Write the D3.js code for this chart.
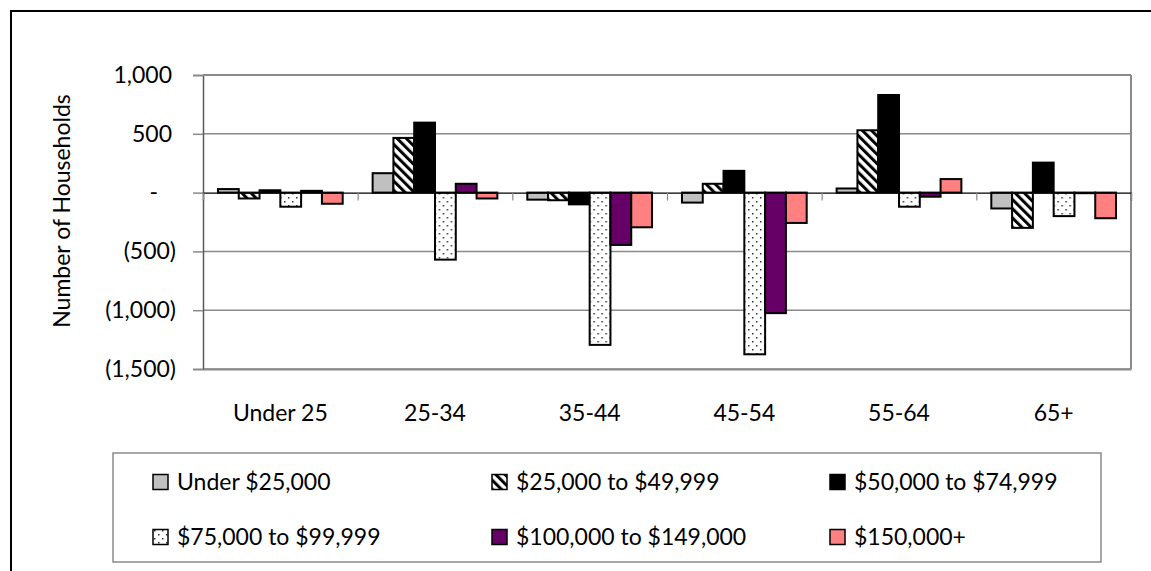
<!DOCTYPE html>
<html>
<head>
<meta charset="utf-8">
<script src="https://cdn.jsdelivr.net/npm/d3@7"></script>
<style>
  body { margin: 0; background: #fff; }
  svg { display: block; font-family: Lato, "Open Sans", sans-serif; }
</style>
</head>
<body>
<div id="chart"></div>
<script>
const ageGroups = ['Under 25', '25-34', '35-44', '45-54', '55-64', '65+'];
const incomeBands = ['Under $25,000', '$25,000 to $49,999', '$50,000 to $74,999',
  '$75,000 to $99,999', '$100,000 to $149,000', '$150,000+'];
const under25k = [30, 165, -60, -85, 35, -135];
const from25k = [-50, 465, -65, 75, 530, -300];
const from50k = [20, 595, -100, 185, 830, 255];
const from75k = [-120, -570, -1295, -1375, -120, -200];
const from100k = [15, 75, -445, -1025, -35, -5];
const over150k = [-95, -50, -295, -258, 115, -218];
const yTicks = [1000, 500, 0, -500, -1000, -1500];

const seriesValues = [under25k, from25k, from50k, from75k, from100k, over150k];
const fills = ['#C0C0C0', 'url(#hatch)', '#000000', 'url(#dots)', '#660066', '#FF8080'];

const width = 1151;
const height = 571;
const plot = { left: 203, right: 1131, top: 75, bottom: 369 };
const fontSize = 23;

const svg = d3.select('#chart')
  .append('svg')
  .attr('width', width)
  .attr('height', height);

// patterns
const defs = svg.append('defs');
const hatch = defs.append('pattern')
  .attr('id', 'hatch')
  .attr('patternUnits', 'userSpaceOnUse')
  .attr('width', 6.5)
  .attr('height', 6.5)
  .attr('patternTransform', 'rotate(-45)');
hatch.append('rect').attr('width', 6.5).attr('height', 6.5).attr('fill', '#fff');
hatch.append('rect').attr('width', 3).attr('height', 6.5).attr('fill', '#000');

const dots = defs.append('pattern')
  .attr('id', 'dots')
  .attr('patternUnits', 'userSpaceOnUse')
  .attr('width', 8)
  .attr('height', 8);
dots.append('rect').attr('width', 8).attr('height', 8).attr('fill', '#fff');
dots.append('rect').attr('x', 1).attr('y', 1).attr('width', 1.5).attr('height', 1.5).attr('fill', '#333');
dots.append('rect').attr('x', 5).attr('y', 5).attr('width', 1.5).attr('height', 1.5).attr('fill', '#333');

// outer frame (runs past the window edge)
svg.append('rect')
  .attr('x', 11).attr('y', 11)
  .attr('width', 1200).attr('height', 700)
  .attr('fill', 'none')
  .attr('stroke', '#000')
  .attr('stroke-width', 2);

const x = d3.scaleBand()
  .domain(ageGroups)
  .range([plot.left, plot.right])
  .padding(0);

const xInner = d3.scaleBand()
  .domain(d3.range(incomeBands.length))
  .range([0, x.bandwidth()])
  .paddingInner(0)
  .paddingOuter(0.72);

const y = d3.scaleLinear()
  .domain([-1500, 1000])
  .range([plot.bottom, plot.top]);

// gridlines
svg.append('g')
  .selectAll('line')
  .data(yTicks.filter(d => d !== 0))
  .join('line')
    .attr('x1', plot.left).attr('x2', plot.right)
    .attr('y1', d => y(d)).attr('y2', d => y(d))
    .attr('stroke', '#8a8a8a')
    .attr('stroke-width', 1.5);

// right border of the plot area
svg.append('line')
  .attr('x1', plot.right).attr('x2', plot.right)
  .attr('y1', plot.top).attr('y2', plot.bottom)
  .attr('stroke', '#8a8a8a')
  .attr('stroke-width', 2);

function fmt(v) {
  if (v === 0) return '-';
  if (v < 0) return '(' + d3.format(',')(-v) + ')';
  return d3.format(',')(v);
}

// y axis
const yAxis = svg.append('g')
  .attr('transform', `translate(${plot.left},0)`)
  .call(d3.axisLeft(y).tickValues(yTicks).tickFormat(fmt).tickSize(10).tickPadding(21));
yAxis.select('.domain').attr('stroke', '#595959').attr('stroke-width', 1.5);
yAxis.selectAll('.tick line').attr('stroke', '#8a8a8a').attr('stroke-width', 1.5);
yAxis.selectAll('.tick text')
  .attr('font-size', fontSize)
  .attr('font-family', 'Lato, sans-serif')
  .attr('fill', '#000')
  .attr('dx', d => d < 0 ? 4 : d === 0 ? -14 : 0);

svg.append('text')
  .attr('transform', `translate(62,${(plot.top + plot.bottom) / 2 - 11}) rotate(-90)`)
  .attr('text-anchor', 'middle')
  .attr('dy', '0.35em')
  .attr('font-size', fontSize)
  .text('Number of Households');

// bars
const groups = svg.append('g')
  .selectAll('g')
  .data(ageGroups)
  .join('g')
    .attr('transform', d => `translate(${x(d)},0)`);

groups.selectAll('rect')
  .data((d, gi) => seriesValues.map((s, si) => ({ si, value: s[gi] })))
  .join('rect')
    .attr('x', d => xInner(d.si))
    .attr('y', d => y(Math.max(0, d.value)))
    .attr('width', xInner.bandwidth())
    .attr('height', d => Math.abs(y(d.value) - y(0)))
    .attr('fill', d => fills[d.si])
    .attr('stroke', '#000')
    .attr('stroke-width', 2);

// zero axis with ticks between categories
const xEdges = d3.scaleLinear().domain([0, ageGroups.length]).range([plot.left, plot.right]);
const zeroAxis = svg.append('g')
  .attr('transform', `translate(0,${y(0)})`)
  .call(d3.axisBottom(xEdges).tickValues(d3.range(ageGroups.length + 1)).tickFormat('').tickSize(8));
zeroAxis.select('.domain').attr('stroke', '#000').attr('stroke-width', 1.2);
zeroAxis.selectAll('.tick line').attr('stroke', '#8a8a8a').attr('stroke-width', 1.2);

// category labels at the bottom
const xAxis = svg.append('g')
  .attr('transform', `translate(0,${plot.bottom})`)
  .call(d3.axisBottom(x).tickSize(0).tickPadding(36));
xAxis.select('.domain').attr('stroke', '#8a8a8a').attr('stroke-width', 2);
xAxis.selectAll('.tick text')
  .attr('font-size', fontSize)
  .attr('font-family', 'Lato, sans-serif')
  .attr('fill', '#000');

// top border of plot area
svg.append('line')
  .attr('x1', plot.left).attr('x2', plot.right)
  .attr('y1', plot.top).attr('y2', plot.top)
  .attr('stroke', '#8a8a8a')
  .attr('stroke-width', 2);

// legend
const legend = svg.append('g');
legend.append('rect')
  .attr('x', 113).attr('y', 453)
  .attr('width', 988).attr('height', 109)
  .attr('fill', '#fff')
  .attr('stroke', '#8a8a8a')
  .attr('stroke-width', 1.5);

const colX = [153, 492, 830];
const rowY = [482, 537];
const items = legend.selectAll('g')
  .data(incomeBands)
  .join('g')
    .attr('transform', (d, i) => `translate(${colX[i % 3]},${rowY[Math.floor(i / 3)]})`);
items.append('rect')
  .attr('x', 0).attr('y', -7.5)
  .attr('width', 15).attr('height', 15)
  .attr('fill', (d, i) => fills[i])
  .attr('stroke', '#000')
  .attr('stroke-width', 1.5);
items.append('text')
  .attr('x', 24)
  .attr('dy', '0.35em')
  .attr('font-size', fontSize)
  .text(d => d);
</script>
</body>
</html>
